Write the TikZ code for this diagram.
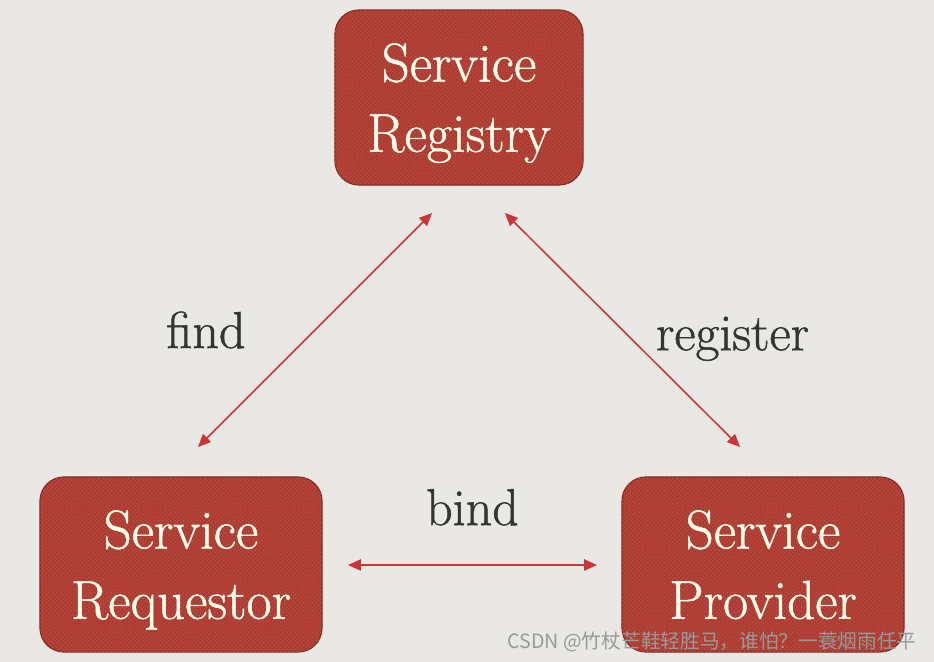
\documentclass[tikz,border=0pt]{standalone}
\usepackage{fontspec}
\newfontfamily\cjkfont{Noto Sans CJK SC}
\newfontfamily\heavyfont[FakeBold=0.9]{Latin Modern Roman}
\usetikzlibrary{positioning, arrows.meta, patterns}
\definecolor{boxred}{RGB}{178,58,46}
\definecolor{dotred}{RGB}{125,32,26}
\definecolor{linkred}{RGB}{202,54,54}
\definecolor{paper}{RGB}{234,232,229}
\definecolor{inkgray}{RGB}{52,52,52}
\tikzset{
  svc/.style={draw=boxred!75!black, line width=0.8pt, rounded corners=17pt, fill=boxred,
              postaction={pattern=crosshatch dots, pattern color=dotred!70},
              text=white!92!yellow, font=\heavyfont\fontsize{39}{50}\selectfont, align=center,
              minimum width=#1, minimum height=4.375cm, inner sep=0pt, text depth=0pt},
  link/.style={{Triangle[length=3.2mm,width=2.8mm]}-{Triangle[length=3.2mm,width=2.8mm]},
               line width=1.1pt, linkred},
  lbl/.style={font=\heavyfont\fontsize{37}{44}\selectfont, text=inkgray},
  wmark/.style={font=\cjkfont\fontsize{14}{16}\selectfont, text=black!40}
}

\begin{document}
\begin{tikzpicture}[x=0.025cm, y=-0.025cm]
  % page
  \fill[paper] (0,0) rectangle (934,662);
  % services
  \node[svc=6.2cm] (reg) at (459,97.5) {Service\\Registry};
  \node[svc=7.05cm] (req) at (181,564.5) {Service\\Requestor};
  \node[svc=7.05cm] (prov) at (763,564.5) {Service\\Provider};
  % arrow ends
  \coordinate (findA) at (432,213);
  \coordinate (findB) at (198,447);
  \coordinate (regA) at (505,213);
  \coordinate (regB) at (740,447);
  \coordinate (bindA) at (348,565);
  \coordinate (bindB) at (597,565);
  % links
  \draw[link] (findA) -- node[lbl, left=1.6cm] (findlbl) {find} (findB);
  \draw[link] (regA) -- node[lbl, right=0.7cm, yshift=-0.22cm] (reglbl) {register} (regB);
  \draw[link] (bindA) -- node[lbl, above=0.85cm] (bindlbl) {bind} (bindB);
  % watermark
  \node[wmark] (mark) at (712,642) {CSDN @竹杖芒鞋轻胜马，谁怕？一蓑烟雨任平};
\end{tikzpicture}
\end{document}
